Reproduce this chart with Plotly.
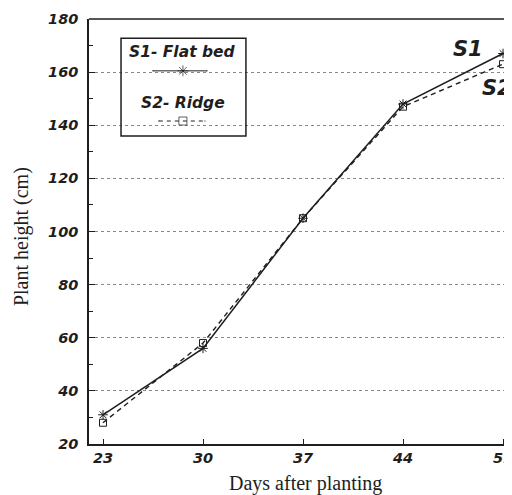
import plotly.graph_objects as go

days = [23, 30, 37, 44, 51]
s1_flat_bed = [31, 56, 105, 148, 167]
s2_ridge = [28, 58, 105, 147, 163]
y_ticks = [20, 40, 60, 80, 100, 120, 140, 160, 180]

ink = "#1e1e1e"
bold_it = dict(family="DejaVu Sans, Liberation Sans", color=ink, weight="bold", style="italic")
serif = dict(family="Liberation Serif, Times New Roman", color=ink)

fig = go.Figure()
fig.add_trace(go.Scatter(
    x=days, y=s1_flat_bed, mode="lines+markers", name="S1- Flat bed",
    line=dict(color=ink, width=1.5),
    marker=dict(symbol="asterisk-open", size=8, color=ink, line=dict(width=1, color=ink)),
    showlegend=False))
fig.add_trace(go.Scatter(
    x=days, y=s2_ridge, mode="lines+markers", name="S2- Ridge",
    line=dict(color=ink, width=1.4, dash="5px,4px"),
    marker=dict(symbol="square-open", size=7, color=ink, line=dict(width=1, color=ink)),
    showlegend=False))

# hand-drawn legend samples on an overlay axis (0..1 over the plot area)
fig.add_trace(go.Scatter(x=[0.151, 0.222, 0.279], y=[0.878, 0.878, 0.878], xaxis="x2", yaxis="y2",
                         mode="lines+markers", showlegend=False, hoverinfo="skip",
                         line=dict(color=ink, width=1),
                         marker=dict(symbol=["line-ew", "asterisk-open", "line-ew"], size=[1, 9, 1],
                                     color=ink, line=dict(width=1, color=ink))))
fig.add_trace(go.Scatter(x=[0.165, 0.222, 0.274], y=[0.76, 0.76, 0.76], xaxis="x2", yaxis="y2",
                         mode="lines+markers", showlegend=False, hoverinfo="skip",
                         line=dict(color=ink, width=1, dash="4px,4px"),
                         marker=dict(symbol=["line-ew", "square-open", "line-ew"], size=[1, 8, 1],
                                     color=ink, line=dict(width=1, color=ink))))

fig.update_layout(
    width=504, height=487,
    margin=dict(l=81, r=0, t=11, b=51),
    paper_bgcolor="white", plot_bgcolor="white",
    xaxis=dict(range=[22.02, 51.63], tickvals=days, ticks="inside", ticklen=5, tickcolor=ink,
               showgrid=False, zeroline=False, showline=True, linecolor=ink, linewidth=1.5,
               tickfont=dict(size=14.5, **bold_it), automargin=False, ticklabeloverflow="allow"),
    yaxis=dict(range=[20, 180], tickvals=y_ticks, ticks="inside", ticklen=6, tickcolor=ink,
               showgrid=True, gridcolor="#888", griddash="dot", gridwidth=1,
               zeroline=False, showline=True, linecolor=ink, linewidth=1.5,
               tickfont=dict(size=14.5, **bold_it), automargin=False, ticklabelstandoff=6,
               ticklabeloverflow="allow",
               minor=dict(dtick=10, ticks="inside", ticklen=4, tickcolor=ink, showgrid=False)),
    xaxis2=dict(range=[0, 1], overlaying="x", visible=False),
    yaxis2=dict(range=[0, 1], overlaying="y", visible=False),
    shapes=[
        dict(type="line", xref="paper", yref="paper", x0=0, x1=1, y0=1, y1=1,
             line=dict(color=ink, width=1.5)),
        dict(type="rect", xref="paper", yref="paper", x0=0.0757, x1=0.371, y0=0.725, y1=0.955,
             line=dict(color=ink, width=1.5), fillcolor="rgba(255,255,255,0)"),
    ],
    annotations=[
        dict(text="S1- Flat bed", xref="paper", yref="paper", x=0.222, y=0.922, showarrow=False,
             xanchor="center", yanchor="middle", font=dict(size=15.5, **bold_it)),
        dict(text="S2- Ridge", xref="paper", yref="paper", x=0.222, y=0.802, showarrow=False,
             xanchor="center", yanchor="middle", font=dict(size=15.5, **bold_it)),
        dict(text="S1", x=48.55, y=168.7, showarrow=False, font=dict(size=21, **bold_it)),
        dict(text="S2", x=50.6, y=154, showarrow=False, font=dict(size=21, **bold_it)),
        dict(text="Days after planting", xref="paper", yref="paper", x=0.511, y=-0.094,
             xanchor="center", yanchor="middle", showarrow=False, font=dict(size=20, **serif)),
        dict(text="Plant height (cm)", xref="paper", yref="paper", x=-0.161, y=0.489,
             xanchor="center", yanchor="middle",
             textangle=-90, showarrow=False, font=dict(size=20, **serif)),
    ],
)

fig.write_html("out.html")
